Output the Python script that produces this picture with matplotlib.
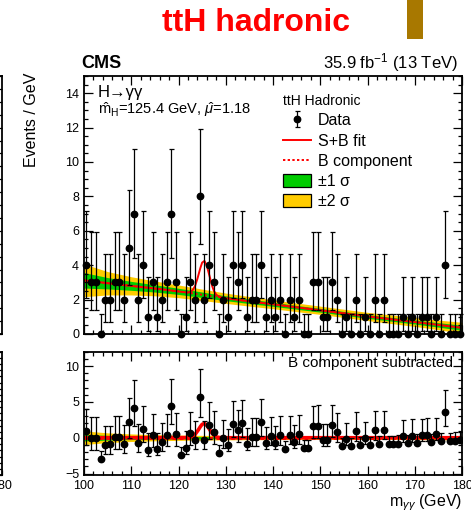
import numpy as np
import matplotlib.pyplot as plt
from matplotlib.patches import Patch, Rectangle
from matplotlib.lines import Line2D
from matplotlib.ticker import MultipleLocator

plt.rcParams['font.family'] = ['Liberation Sans', 'DejaVu Sans']
plt.rcParams['mathtext.fontset'] = 'custom'
plt.rcParams['mathtext.rm'] = 'Liberation Sans'
plt.rcParams['mathtext.it'] = 'Liberation Sans:italic'
plt.rcParams['mathtext.bf'] = 'Liberation Sans:bold'

# diphoton mass, 1 GeV bins from 100 to 180
mass = np.arange(100.5, 180.0, 1.0)
events = [4, 3, 3, 0, 2, 2, 3, 3, 2, 5,
          7, 2, 4, 1, 3, 1, 2, 3, 7, 3,
          0, 1, 3, 2, 8, 2, 4, 3, 0, 2,
          1, 4, 3, 4, 1, 2, 2, 4, 1, 2,
          1, 2, 0, 2, 1, 2, 0, 0, 3, 3,
          1, 1, 3, 2, 0, 1, 0, 2, 0, 1,
          0, 2, 0, 2, 0, 0, 0, 1, 0, 1,
          0, 1, 1, 0, 1, 0, 4, 0, 0, 0]

# poisson intervals per observed count (down, up)
poisson_lo = {0: 0.0, 1: 0.827, 2: 1.292, 3: 1.633, 4: 1.914, 5: 2.159, 7: 2.582, 8: 2.768}
poisson_hi = {0: 1.15, 1: 2.299, 2: 2.637, 3: 2.918, 4: 3.162, 5: 3.382, 7: 3.770, 8: 3.945}

# background fit and its uncertainty bands
bkg_mass = [100, 105, 110, 115, 120, 125, 130, 135, 140, 145, 150, 155, 160, 165, 170, 175, 180]
bkg_vals = [3.12, 2.95, 2.8, 2.65, 2.48, 2.28, 2.08, 1.9, 1.73, 1.55, 1.38, 1.2, 1.02, 0.86, 0.7, 0.53, 0.36]
band1_half = [0.45, 0.33, 0.26, 0.21, 0.18, 0.16, 0.14, 0.13, 0.12, 0.11, 0.11, 0.11, 0.11, 0.11, 0.12, 0.13, 0.15]
band2_half = [0.95, 0.68, 0.53, 0.43, 0.37, 0.33, 0.3, 0.28, 0.26, 0.25, 0.24, 0.24, 0.24, 0.25, 0.26, 0.28, 0.32]

# signal component of the S+B fit
sig_mass = [121.0, 121.5, 122.0, 122.5, 123.0, 123.5, 124.0, 124.5, 125.0, 125.5,
            126.0, 126.5, 127.0, 127.5, 128.0, 128.5, 129.0, 129.5]
sig_vals = [0.0, 0.0, 0.02, 0.06, 0.19, 0.45, 0.89, 1.43, 1.87, 1.99,
            1.72, 1.21, 0.69, 0.32, 0.12, 0.04, 0.01, 0.0]

GREEN = '#00cc00'
YELLOW = '#ffcc00'
RED = '#ff0000'

counts = np.array(events)
err_lo = np.array([poisson_lo[n] for n in events])
err_hi = np.array([poisson_hi[n] for n in events])

xf = np.linspace(100, 180, 641)
bkg = np.interp(xf, bkg_mass, bkg_vals)
one = np.interp(xf, bkg_mass, band1_half)
two = np.interp(xf, bkg_mass, band2_half)
sig = np.interp(xf, sig_mass, sig_vals, left=0.0, right=0.0)
resid = counts - np.interp(mass, bkg_mass, bkg_vals)

W, H = 471, 512
fig = plt.figure(figsize=(W / 100, H / 100), dpi=100)


def fx(px):
    return px / W


def fy(py):
    return 1 - py / H


def root_style(ax, xminor, ymajor, yminor):
    ax.xaxis.set_major_locator(MultipleLocator(10))
    ax.xaxis.set_minor_locator(MultipleLocator(xminor))
    ax.yaxis.set_major_locator(MultipleLocator(ymajor))
    ax.yaxis.set_minor_locator(MultipleLocator(yminor))
    ax.tick_params(which='both', direction='in', top=True, right=True, width=0.9, labelsize=9)
    ax.tick_params(which='major', length=6.5)
    ax.tick_params(which='minor', length=3.2)
    for s in ax.spines.values():
        s.set_linewidth(1.3)


left, right = 84, 462
ax = fig.add_axes([fx(left), fy(334), fx(right - left), (334 - 76) / H])
axr = fig.add_axes([fx(left), fy(475), fx(right - left), (475 - 351.7) / H])

# main panel
ax.fill_between(xf, bkg - two, bkg + two, color=YELLOW, lw=0)
ax.fill_between(xf, bkg - one, bkg + one, color=GREEN, lw=0)
ax.plot(xf, bkg, color=RED, lw=1.4, ls=(0, (1.2, 1.2)))
ax.plot(xf, bkg + sig, color=RED, lw=1.4)
data = ax.errorbar(mass, counts, yerr=[err_lo, err_hi], fmt='o', color='black',
                   ms=4.6, elinewidth=0.9, capsize=1.8, capthick=0.9, clip_on=False, zorder=5)
ax.set_xlim(100, 180)
ax.set_ylim(0, 15)
root_style(ax, 2, 2, 0.5)
ax.tick_params(labelbottom=False)

ax.text(0.037, 0.935, 'H\u2192\u03b3\u03b3', transform=ax.transAxes, fontsize=12, va='center')
ax.text(0.037, 0.868, r'$\hat{\mathrm{m}}_{\mathrm{H}}$=125.4 GeV, $\hat{\mu}$=1.18',
        transform=ax.transAxes, fontsize=10.5, va='center')

handles = [data,
           Line2D([], [], color=RED, lw=1.4),
           Line2D([], [], color=RED, lw=1.4, ls=(0, (1.2, 1.2))),
           Patch(facecolor=GREEN, edgecolor='black', lw=0.9),
           Patch(facecolor=YELLOW, edgecolor='black', lw=0.9)]
labels = ['Data', 'S+B fit', 'B component', '\u00b11 \u03c3', '\u00b12 \u03c3']
ax.legend(handles, labels, title='ttH Hadronic', title_fontsize=10, fontsize=11.5,
          loc='upper left', bbox_to_anchor=((283 - left) / (right - left), (334 - 94) / 258),
          frameon=False, alignment='left', borderpad=0, borderaxespad=0,
          handlelength=1.75, handleheight=0.85, handletextpad=0.45, labelspacing=0.33)

# background-subtracted panel
axr.fill_between(xf, -two, two, color=YELLOW, lw=0)
axr.fill_between(xf, -one, one, color=GREEN, lw=0)
axr.plot(xf, np.zeros_like(xf), color=RED, lw=2.2, ls=(0, (1.2, 1.2)))
axr.plot(xf, sig, color=RED, lw=2.6)
axr.errorbar(mass, resid, yerr=[err_lo, err_hi], fmt='o', color='black',
             ms=4.6, elinewidth=0.9, capsize=1.8, capthick=0.9, zorder=5)
axr.set_xlim(100, 180)
axr.set_ylim(-5.2, 12)
root_style(axr, 2, 5, 1)
axr.text(0.975, 0.905, 'B component subtracted', transform=axr.transAxes,
         fontsize=11, ha='right', va='center')

# neighbouring panels, cut off at the left edge
for top, bot in [(76, 334), (351.7, 475)]:
    axn = fig.add_axes([-0.6, fy(bot), 0.6 + fx(2), (bot - top) / H])
    axn.set_xlim(100, 180)
    axn.set_ylim(0, 1)
    axn.set_xticks([180] if bot == 475 else [])
    axn.set_yticks([])
    axn.yaxis.set_minor_locator(MultipleLocator(0.05))
    axn.tick_params(which='both', direction='in', right=True, width=0.9, labelsize=9,
                    labelleft=False)
    axn.tick_params(which='minor', length=3.2)
    for s in axn.spines.values():
        s.set_linewidth(1.3)

fig.text(fx(31), fy(73), 'Events / GeV', rotation=90, fontsize=11.5, ha='center', va='top')
fig.text(fx(right), fy(503), r'$\mathrm{m}_{\gamma\gamma}$ (GeV)', fontsize=11.5, ha='right', va='center')
fig.text(fx(81), fy(68), 'CMS', fontsize=13, fontweight='bold', ha='left', va='baseline')
fig.text(fx(458), fy(68), r'35.9 fb$^{-1}$ (13 TeV)', fontsize=12, ha='right', va='baseline')

fig.text(fx(256), fy(23), 'ttH hadronic', color=RED, fontsize=23, fontweight='bold',
         ha='center', va='center')
fig.patches.append(Rectangle((fx(407), fy(39)), fx(16), 39 / H, transform=fig.transFigure,
                             facecolor='#a87800', edgecolor='none'))

fig.savefig('out.png', dpi=100)
